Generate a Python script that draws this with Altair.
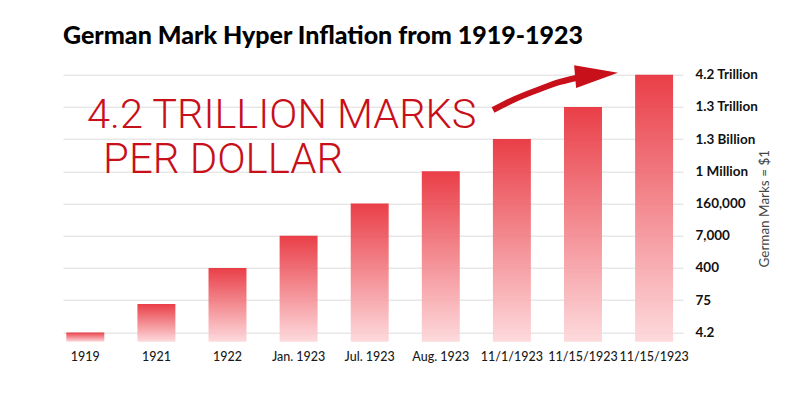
import altair as alt
import pandas as pd

# ---- data ----
categories = ["1919", "1921", "1922", "Jan. 1923", "Jul. 1923", "Aug. 1923",
              "11/1/1923", "11/15/1923", "11/15/1923"]
# bar heights on the chart's ranked (evenly spaced) marks-per-dollar scale
levels = [1, 1.88, 3, 4, 5, 6, 7, 8, 9]
tick_levels = [1, 2, 3, 4, 5, 6, 7, 8, 9]
tick_labels = ["4.2", "75", "400", "7,000", "160,000", "1 Million",
               "1.3 Billion", "1.3 Trillion", "4.2 Trillion"]

# annotation anchors (in category-index units / level units)
note_lines = ["4.2 TRILLION MARKS", "PER DOLLAR"]
note_u = [0.524, 0.749]
note_level = [7.345, 5.95]
arrow_u = [6.234, 6.544, 6.896, 7.177, 7.458]
arrow_level = [7.904, 8.246, 8.557, 8.774, 8.929]
head_u = [7.69]
head_level = [9.0]

Y_MIN, Y_MAX = 0.711, 9
U_MIN, U_MAX = 0.186, 8.906

bars_df = pd.DataFrame({"idx": list(range(len(categories))), "level": levels})
arrow_df = pd.DataFrame({"u": arrow_u, "level": arrow_level, "o": list(range(len(arrow_u)))})
head_df = pd.DataFrame({"u": head_u, "level": head_level})
note1_df = pd.DataFrame({"u": note_u[:1], "level": note_level[:1], "t": note_lines[:1]})
note2_df = pd.DataFrame({"u": note_u[1:], "level": note_level[1:], "t": note_lines[1:]})

cat_expr = "[" + ",".join("'" + c + "'" for c in categories) + "][datum.value]"
tick_expr = "[" + ",".join("'" + t + "'" for t in tick_labels) + "][datum.value-1]"

yscale = alt.Scale(domain=[Y_MIN, Y_MAX], zero=False, nice=False)
uscale = alt.Scale(domain=[U_MIN, U_MAX], zero=False, nice=False)

grad = alt.Gradient(
    gradient="linear",
    stops=[alt.GradientStop(offset=0, color="#e8303a"),
           alt.GradientStop(offset=1, color="#fdd7da")],
    x1=0, x2=0, y1=0, y2=1,
)

bars = alt.Chart(bars_df).mark_bar(fill=grad, fillOpacity=0.93).encode(
    x=alt.X("idx:O", sort=None,
            scale=alt.Scale(paddingInner=0.466, paddingOuter=0.093, align=0.25),
            axis=alt.Axis(title=None, labelExpr=cat_expr, labelAngle=0, ticks=False,
                          domain=False, labelPadding=9, labelFont="Lato",
                          labelFontSize=12.5, labelFontWeight=500, labelColor="#1a1a1a",
                          labelOverlap=False)),
    y=alt.Y("level:Q", scale=yscale,
            axis=alt.Axis(orient="right", values=tick_levels, tickCount=20,
                          labelExpr=tick_expr,
                          ticks=False, domain=False, grid=True, gridColor="#dcdcdc",
                          gridWidth=1, labelPadding=12, labelFont="Lato",
                          labelFontSize=13.5, labelFontWeight="bold", labelColor="#111",
                          labelAlign="left", labelBaseline="middle",
                          labelOverlap=False, labelBound=False, labelFlush=False,
                          title="German Marks = $1", titleFont="Lato",
                          titleFontSize=13.5, titleFontWeight="normal", titleColor="#444",
                          titleAngle=270, titleX=82, titleY=133.5,
                          titleAlign="center", titleBaseline="middle")),
    y2=alt.datum(Y_MIN),
)

arrow = alt.Chart(arrow_df).mark_line(color="#c8101a", strokeWidth=6,
                                      interpolate="monotone", strokeCap="butt").encode(
    x=alt.X("u:Q", scale=uscale, axis=None),
    y=alt.Y("level:Q", scale=yscale),
    order="o:Q",
)

head = alt.Chart(head_df).mark_point(shape="M-1,-0.53L1,0L-1,0.53Z", filled=True,
                                     fill="#c8101a", strokeWidth=0, opacity=1,
                                     size=1849, angle=355).encode(
    x=alt.X("u:Q", scale=uscale, axis=None),
    y=alt.Y("level:Q", scale=yscale),
)

note1 = alt.Chart(note1_df).mark_text(align="left", baseline="alphabetic", font="Roboto",
                                      fontWeight=300, fontSize=41.5, color="#c8101a").encode(
    x=alt.X("u:Q", scale=uscale, axis=None),
    y=alt.Y("level:Q", scale=yscale),
    text="t:N",
)
note2 = alt.Chart(note2_df).mark_text(align="left", baseline="alphabetic", font="Roboto",
                                      fontWeight=300, fontSize=42, color="#c8101a").encode(
    x=alt.X("u:Q", scale=uscale, axis=None),
    y=alt.Y("level:Q", scale=yscale),
    text="t:N",
)

chart = alt.layer(bars, arrow, head, note1, note2).resolve_scale(
    x="independent"
).properties(
    width=620, height=267,
    autosize=alt.AutoSizeParams(type="none"),
    padding={"left": 55, "top": 66.7, "right": 114, "bottom": 49},
    title=alt.TitleParams(text="German Mark Hyper Inflation from 1919-1923",
                          anchor="start", frame="group", font="Lato", fontSize=25,
                          fontWeight=900, color="#000", offset=16),
).configure_view(stroke=None)

chart.save("out.html", embed_options={"renderer": "svg", "actions": False})
